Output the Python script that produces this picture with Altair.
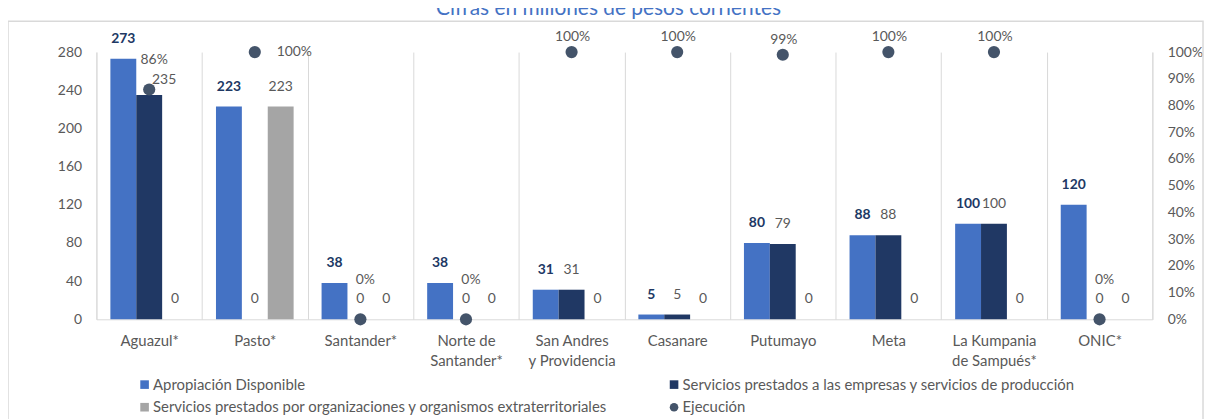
import altair as alt
import pandas as pd

categorias = ["Aguazul*", "Pasto*", "Santander*", "Norte de\nSantander*", "San Andres\ny Providencia",
              "Casanare", "Putumayo", "Meta", "La Kumpania\nde Sampués*", "ONIC*"]
apropiacion = [273, 223, 38, 38, 31, 5, 80, 88, 100, 120]
serv_empresas = [235, 0, 0, 0, 31, 5, 79, 88, 100, 0]
serv_organizaciones = [0, 223, 0, 0, 0, 0, 0, 0, 0, 0]
ejecucion = [0.86, 1.00, 0.0, 0.0, 1.00, 1.00, 0.99, 1.00, 1.00, 0.0]

series = ["Apropiación Disponible",
          "Servicios prestados a las empresas y servicios de producción",
          "Servicios prestados por organizaciones y organismos extraterritoriales",
          "Ejecución"]
colores = ["#4472C4", "#203864", "#A5A5A5", "#44546A"]
formas = ["square", "square", "square", "circle"]
ticks_izq = [0, 40, 80, 120, 160, 200, 240, 280]
ticks_der = [0, 0.1, 0.2, 0.3, 0.4, 0.5, 0.6, 0.7, 0.8, 0.9, 1.0]
titulo = "Cifras en millones de pesos corrientes"

FONT = "Lato"
FS = 14      # números
FT = 15      # textos
GRIS = "#595959"
LINEA = "#D9D9D9"

filas = []
for i, c in enumerate(categorias):
    for s, vals in zip(series[:3], [apropiacion, serv_empresas, serv_organizaciones]):
        filas.append({"categoria": c, "serie": s, "valor": vals[i]})
barras_df = pd.DataFrame(filas)
ejec_df = pd.DataFrame({"categoria": categorias, "ejec": ejecucion, "serie": series[3]})

# orden de la leyenda (se llena por columnas)
orden_leyenda = [series[0], series[2], series[1], series[3]]
colores_leyenda = [colores[series.index(s)] for s in orden_leyenda]
formas_leyenda = [formas[series.index(s)] for s in orden_leyenda]

W, H = 1063, 269

x_enc = alt.X("categoria:N", sort=categorias,
              scale=alt.Scale(paddingInner=0, paddingOuter=0),
              axis=alt.Axis(title=None, labelExpr="split(datum.label, '\\n')",
                            grid=True, tickBand="extent", gridColor=LINEA, ticks=False,
                            domainColor=LINEA, labelAngle=0, labelFont=FONT, labelFontSize=FT,
                            labelColor=GRIS, labelLineHeight=20.5, labelPadding=14, labelBaseline="top"))
xoff = alt.XOffset("serie:N", sort=series[:3],
                   scale=alt.Scale(domain=series[:3], paddingInner=0, paddingOuter=0.54))
y_izq = alt.Y("valor:Q", scale=alt.Scale(domain=[0, 280], nice=False),
              axis=alt.Axis(values=ticks_izq, title=None, grid=False, ticks=False,
                            domainColor=LINEA, labelFont=FONT, labelFontSize=FS,
                            labelColor=GRIS, labelPadding=15))

leg = alt.Legend(title=None, orient="none", legendX=41, legendY=327, columns=2,
                 columnPadding=59, rowPadding=7, labelFont=FONT, labelFontSize=FT,
                 labelColor=GRIS, labelLimit=700, symbolSize=75, symbolStrokeWidth=0,
                 labelOffset=1)
color_enc = alt.Color("serie:N", scale=alt.Scale(domain=orden_leyenda, range=colores_leyenda),
                      legend=leg)

base_b = alt.Chart(barras_df)
bars = base_b.mark_bar().encode(x=x_enc, xOffset=xoff, y=y_izq, color=color_enc)

def lbl(serie, bold=False, color=GRIS, dx=0, dy=-20, filtro=None):
    ch = base_b.mark_text(font=FONT, fontSize=FS, fontWeight="bold" if bold else "normal",
                          color=color, baseline="middle", dx=dx, dy=dy)
    cond = alt.datum.serie == serie
    if filtro is not None:
        cond = cond & filtro
    return ch.encode(x=x_enc, xOffset=xoff, y=y_izq, text=alt.Text("valor:Q")).transform_filter(cond)

lab_a = lbl(series[0], bold=True, color="#203864")
lab_b = lbl(series[1], filtro=alt.datum.categoria != "Aguazul*")
lab_b2 = lbl(series[1], dx=15, dy=-15, filtro=alt.datum.categoria == "Aguazul*")
lab_c = lbl(series[2])

izq = alt.layer(bars, lab_a, lab_b, lab_b2, lab_c)

y_der = alt.Y("ejec:Q", scale=alt.Scale(domain=[0, 1], nice=False),
              axis=alt.Axis(orient="right", values=ticks_der, format=".0%", title=None,
                            grid=False, ticks=False, domainColor=LINEA, labelFont=FONT,
                            labelFontSize=FS, labelColor=GRIS, labelPadding=15))
base_e = alt.Chart(ejec_df)
dots = base_e.mark_point(filled=True, size=150, opacity=1).encode(
    x=x_enc, y=y_der,
    color=color_enc,
    shape=alt.Shape("serie:N", scale=alt.Scale(domain=orden_leyenda, range=formas_leyenda),
                    legend=leg),
)

def plab(filtro, dx=0, dy=-15, align="center"):
    return base_e.mark_text(font=FONT, fontSize=FS, color=GRIS, baseline="middle",
                            align=align, dx=dx, dy=dy).encode(
        x=x_enc, y=y_der, text=alt.Text("ejec:Q", format=".0%")).transform_filter(filtro)

otros = (alt.datum.ejec > 0) & (alt.datum.categoria != "Aguazul*") & (alt.datum.categoria != "Pasto*")
p1 = plab(otros, dx=1, dy=-15)
p2 = plab(alt.datum.ejec == 0, dx=5, dy=-40)
p3 = plab(alt.datum.categoria == "Aguazul*", dx=5, dy=-30)
p4 = plab(alt.datum.categoria == "Pasto*", dx=22, dy=0, align="left")

der = alt.layer(dots, p1, p2, p3, p4)

marco = alt.Chart(pd.DataFrame({"k": [0]})).mark_rect(
    fill="white", fillOpacity=0, stroke=LINEA, strokeWidth=1.5).encode(
    x=alt.value(-89), x2=alt.value(1114), y=alt.value(-31), y2=alt.value(420))

titulo_txt = alt.Chart(pd.DataFrame({"t": [titulo]})).mark_text(
    font=FONT, fontSize=21, color="#4472C4", baseline="alphabetic", align="center").encode(
    text="t:N", x=alt.value(W / 2 - 16), y=alt.value(-37))

chart = alt.layer(marco, titulo_txt, izq, der).resolve_scale(y="independent").properties(
    width=W, height=H,
    padding={"left": 89, "top": 43, "right": 54, "bottom": 99},
    autosize=alt.AutoSizeParams(type="none"),
).configure_view(stroke=None)

chart.save("out.html", embed_options={"renderer": "svg", "actions": False})
